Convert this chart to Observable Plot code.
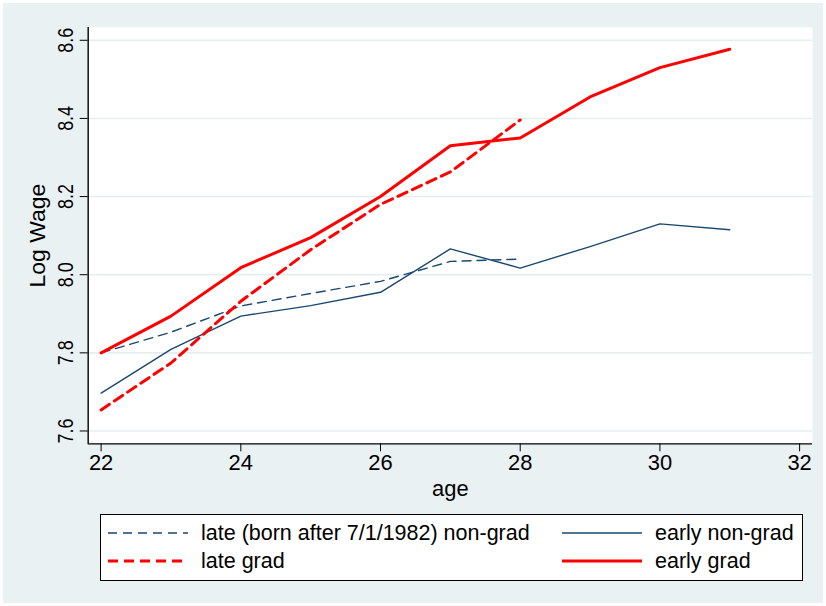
<!DOCTYPE html>
<html><head><meta charset="utf-8">
<script src="https://cdn.jsdelivr.net/npm/d3@7"></script>
<script src="https://cdn.jsdelivr.net/npm/@observablehq/plot@0.6"></script>
<style>
html,body{margin:0;padding:0;background:#fff;}
#wrap{position:absolute;left:3px;top:3px;width:820px;height:600px;background:#eaf1f3;overflow:hidden;}
#chart{position:absolute;left:-3px;top:-3px;}
#legend{position:absolute;left:97px;top:511px;width:701px;height:65px;background:#fff;border:1.5px solid #000;font-family:"Liberation Sans",Arial,sans-serif;font-size:21.5px;color:#000;}
.item{position:absolute;display:flex;align-items:center;height:24px;}
.item svg{margin-right:13px;}
</style></head>
<body>
<div id="wrap"><div id="chart"></div><div id="legend"></div></div>
<script>
const ages = [22, 23, 24, 25, 26, 27, 28, 29, 30, 31];
const lateAges = [22, 23, 24, 25, 26, 27, 28];
const earlyGrad = [7.800, 7.894, 8.018, 8.095, 8.200, 8.330, 8.350, 8.455, 8.530, 8.577];
const lateGrad = [7.654, 7.774, 7.932, 8.064, 8.180, 8.263, 8.396];
const earlyNonGrad = [7.697, 7.809, 7.894, 7.921, 7.955, 8.066, 8.017, 8.072, 8.130, 8.115];
const lateNonGrad = [7.800, 7.853, 7.920, 7.952, 7.983, 8.034, 8.040];
const xTicks = [22, 24, 26, 28, 30, 32];
const yTicks = [7.6, 7.8, 8.0, 8.2, 8.4, 8.6];
const seriesNames = ["late (born after 7/1/1982) non-grad", "early non-grad", "late grad", "early grad"];

const NAVY = "#1a476f", RED = "#ff0000";
const styles = {
  "late (born after 7/1/1982) non-grad": {stroke: NAVY, width: 1.4, dash: "9,6"},
  "early non-grad": {stroke: NAVY, width: 1.4, dash: null},
  "late grad": {stroke: RED, width: 3, dash: "10,6"},
  "early grad": {stroke: RED, width: 3, dash: null}
};
const mk = (xs, ys) => xs.map((x, i) => ({age: x, v: ys[i]}));
const data = {
  "late (born after 7/1/1982) non-grad": mk(lateAges, lateNonGrad),
  "early non-grad": mk(ages, earlyNonGrad),
  "late grad": mk(lateAges, lateGrad),
  "early grad": mk(ages, earlyGrad)
};
const FONT = "Liberation Sans, Arial, sans-serif";
const xDom = [21.815, 32.185], yDom = [7.567, 8.633];

const lineMarks = seriesNames.map(n => Plot.line(data[n], {
  x: "age", y: "v", stroke: styles[n].stroke, strokeWidth: styles[n].width,
  strokeDasharray: styles[n].dash || undefined, strokeLinejoin: "round"
}));

const chart = Plot.plot({
  width: 826, height: 510,
  marginLeft: 88, marginRight: 11, marginTop: 27, marginBottom: 65,
  style: {background: "transparent", fontFamily: FONT, fontSize: "21px", color: "#000"},
  x: {domain: xDom, ticks: xTicks},
  y: {domain: yDom, ticks: yTicks},
  marks: [
    Plot.frame({fill: "#fff", stroke: null}),
    Plot.gridY(yTicks, {stroke: "#e4eef0", strokeOpacity: 1, strokeWidth: 1.6}),
    ...lineMarks,
    Plot.ruleX([xDom[0]], {stroke: "#000", strokeWidth: 1.4}),
    Plot.ruleY([yDom[0]], {stroke: "#000", strokeWidth: 1.4}),
    Plot.axisX(xTicks, {tickSize: 8, tickPadding: 3, fontSize: 22, label: "age", labelAnchor: "center", labelArrow: "none", labelOffset: 52}),
    Plot.axisY(yTicks, {tickSize: 8, tickPadding: 7, fontSize: 23, tickRotate: -90, label: "Log Wage", labelAnchor: "center", labelArrow: "none", labelOffset: 60})
  ]
});
document.getElementById("chart").appendChild(chart);

// condense rotated y tick labels along their length (Stata-like rendering)
d3.select(chart).selectAll("g[aria-label='y-axis tick label'] text").each(function() {
  const t = this.getAttribute("transform") || "";
  this.setAttribute("transform", t + " scale(0.78,1)");
});

// legend
const leg = document.getElementById("legend");
const pos = [[7, 6], [461, 6], [7, 34], [461, 34]];
seriesNames.forEach((n, i) => {
  const s = styles[n];
  const div = document.createElement("div");
  div.className = "item";
  div.style.left = pos[i][0] + "px";
  div.style.top = pos[i][1] + "px";
  const w = 80;
  div.innerHTML = `<svg width="${w}" height="10"><line x1="0" x2="${w}" y1="5" y2="5" stroke="${s.stroke}" stroke-width="${s.width}" ${s.dash ? `stroke-dasharray="${s.dash}"` : ""}/></svg><span>${n}</span>`;
  leg.appendChild(div);
});
</script>
</body></html>
